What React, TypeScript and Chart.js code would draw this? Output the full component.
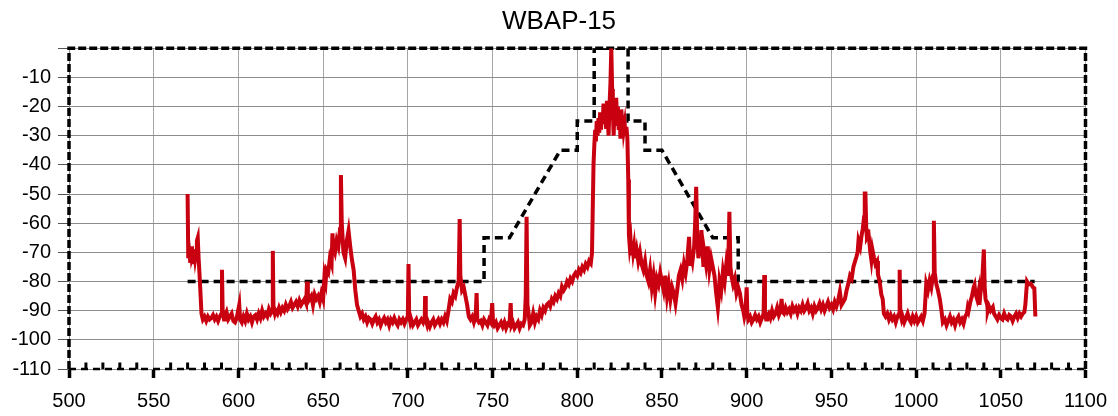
import React, { useEffect, useRef } from "react";
import { Chart, registerables } from "chart.js";

Chart.register(...registerables);

const chartTitle = "WBAP-15";
const xMin = 500;
const xMax = 1100;
const xStep = 50;
const yMin = -110;
const yMax = 0;
const yStep = 10;

// Measured spectrum: [frequency MHz, level dB]
const spectrumTrace: [number, number][] = [
  [570.0, -50], [570.4, -72], [571.0, -70], [571.5, -73], [572.0, -68], [572.5, -72], [573.0, -71], [573.5, -74], [574.0, -69], [574.5, -72],
  [575.0, -70], [575.5, -66], [576.0, -65], [576.5, -72], [577.0, -77], [577.6, -84], [578.2, -91], [579, -93], [580, -92], [581, -93.5],
  [582, -92], [583, -93], [584, -92.5], [585, -91.5], [586, -93], [587, -92], [588, -93.5], [589, -92], [590, -91], [590.3, -76],
  [590.7, -90], [591.5, -93], [592, -92], [593, -90.5], [594, -93], [595, -92], [596, -91], [597, -93.5], [598, -94], [599, -92.5],
  [600.5, -88], [601, -93], [602, -94], [603, -92], [604, -93.5], [605, -91], [606, -93], [607, -92], [608, -94], [609, -92],
  [610, -91.5], [611, -93], [612, -91], [613, -92.5], [614, -90], [615, -92], [616, -91], [617, -92], [618, -89.5], [619, -91],
  [620, -90], [620.3, -69.5], [620.7, -89], [621.5, -91], [622, -90], [623, -91], [624, -89], [625, -90.5], [626, -89], [627, -90],
  [628, -88], [629, -89.5], [630, -88.5], [631, -87], [632, -89], [633, -88], [634, -87], [635, -88.5], [636, -86.5], [637, -88],
  [638, -87], [639, -86], [640, -87.5], [640.5, -80], [641, -87], [642, -86], [643, -85], [644, -88], [645, -84.5], [646, -86],
  [647, -85], [648, -87], [649, -84], [650, -86], [650.8, -78], [651.5, -80], [652, -76], [653, -77], [654, -72], [655, -74],
  [655.5, -63.5], [656, -68], [657, -70], [658, -66], [659, -68], [660, -62], [660.5, -43.5], [661, -60], [662, -70], [663, -72],
  [664, -66], [665, -62.6], [666, -68], [667, -72.5], [668, -76], [669, -83], [670, -88], [671, -90], [672, -92], [673, -91],
  [674, -93], [675, -92], [676, -94], [677, -92.5], [678, -93], [679, -94.5], [680, -93], [681, -92], [682, -94], [683, -93],
  [684, -95], [685, -93.5], [686, -92.5], [687, -94], [688, -93], [689, -95], [690, -93], [691, -94], [692, -92.5], [693, -94],
  [694, -95], [695, -93], [696, -94], [697, -93], [698, -94.5], [699, -93], [700, -92], [700.4, -74], [700.8, -92], [701.5, -94],
  [702, -93], [703, -95], [704, -94], [705, -93], [706, -95], [707, -94], [708, -93], [709, -94], [710, -92], [710.2, -85],
  [710.6, -93], [711.5, -95], [712, -94], [713, -95.5], [714, -94], [715, -93], [716, -95], [717, -94], [718, -93], [719, -94.5],
  [720, -93], [721, -94], [722, -92], [723, -93.5], [724, -90], [725, -86], [726, -87], [727, -84], [728, -85], [729, -82],
  [730, -80], [730.6, -58.6], [731, -78], [732, -83], [733, -82], [734, -85], [735, -88], [736, -92], [737, -93], [738, -92],
  [739, -94], [740, -92], [740.6, -84], [741, -93], [742, -94], [743, -93.5], [744, -95], [745, -93], [746, -94], [747, -95],
  [748, -93], [749, -94], [749.8, -87.4], [750.3, -94], [751, -95], [752, -94], [753, -96], [754, -95], [755, -94], [756, -95.5],
  [757, -94], [758, -96], [759, -94.5], [760, -95], [760.7, -87.4], [761.2, -95], [762, -94], [763, -96], [764, -95], [765, -94],
  [766, -96], [767, -94.5], [768, -95], [769, -93], [769.6, -85], [770.1, -57.8], [770.6, -88], [771.5, -92], [772, -95], [773, -94],
  [774, -91], [775, -94], [776, -92], [777, -93], [778, -90], [779, -91.5], [780, -89], [781, -90], [782, -88], [783, -87.4],
  [784, -88.5], [785, -86], [786, -87], [787, -85], [788, -86], [789, -84], [790, -85], [791, -81.8], [792, -83], [793, -82],
  [794, -80], [795, -81], [796, -79], [797, -80], [798, -78], [799, -77.1], [800, -78], [801, -76], [802, -77], [803, -75],
  [804, -76], [805, -74], [806, -75], [807, -73], [808, -73.8], [808.7, -70.3], [809.6, -40], [810.1, -33], [810.6, -28], [811, -32],
  [811.5, -25], [812, -30], [812.5, -24], [813, -29], [813.5, -22], [814, -28], [814.5, -23], [815, -26], [815.5, -19], [816, -25],
  [816.5, -21], [817, -27], [817.5, -18], [818, -24], [818.5, -30], [819, -20], [819.6, -12], [820.1, 0], [820.6, -14], [821, -22],
  [821.5, -30], [822, -19], [822.5, -24], [823, -17], [823.5, -26], [824, -20], [824.5, -28], [825, -22], [825.5, -31], [826, -21],
  [826.5, -25], [827, -23], [827.5, -28], [828, -26], [828.5, -30], [829, -27], [829.6, -31], [830.1, -45], [830.5, -64], [831, -68],
  [831.5, -66], [832, -71], [832.5, -67], [833, -70], [833.5, -68], [834, -72], [835, -69], [836, -73], [837, -70], [838, -74],
  [839, -76], [840, -73], [841, -78], [842, -80], [843, -76], [844, -82], [845, -78], [846, -84], [847, -79], [848, -81],
  [849, -77], [850, -80], [851, -83], [852, -78], [853, -85], [854, -81], [855, -86], [856, -82], [857, -84], [858, -87.5],
  [859, -83], [860, -78], [861, -76], [862, -79], [863, -74], [864, -77], [865, -72.6], [866, -64.7], [866.6, -74], [867, -70],
  [868, -73], [869, -68], [869.6, -60], [870.2, -47.5], [870.8, -64], [871.5, -72], [872, -70], [873, -66], [873.3, -62.4], [873.8, -68],
  [874.5, -75], [875, -70], [876, -74], [877, -68], [878, -76], [879, -72], [880, -75], [881, -78], [882, -84], [883, -89],
  [883.6, -85], [884, -80], [885, -83], [886, -76.5], [887, -80], [888, -74], [889, -78], [889.8, -56.1], [890.4, -75], [891, -78],
  [892, -81], [893, -79], [894, -84], [895, -82], [896, -84], [897, -88], [898, -90], [898.6, -92], [899.3, -90], [900, -82],
  [900.4, -91], [901, -93], [902, -92], [903, -94], [904, -93], [905, -91.5], [906, -93], [907, -92], [908, -94], [909, -92.5],
  [910, -91], [910.4, -77.8], [910.8, -91], [911.5, -93], [912, -92], [913, -91], [914, -92.5], [915, -90], [916, -92], [917, -91],
  [918, -89], [919, -91.5], [920, -90], [920.6, -86], [921.2, -90.5], [922, -91], [923, -89], [924, -90.5], [925, -89.5], [926, -91],
  [927, -88.5], [928, -90], [929, -89], [930, -91], [931, -89], [932, -90], [933, -88], [934, -90], [935, -89], [936, -87.5],
  [937, -90], [938, -89], [939, -91], [940, -88.5], [941, -90], [942, -89], [943, -87.5], [944, -89.5], [945, -88], [946, -90],
  [947, -88.5], [948, -87], [949, -89], [950, -88], [951, -89.5], [952, -87], [953, -88.5], [954, -86.5], [955, -83.5], [956, -88],
  [957, -87], [958, -86], [959, -83], [960, -80.8], [961, -78], [962, -79], [963, -75], [964, -73], [964.8, -71.5], [965.5, -70],
  [966, -66], [967, -68], [967.7, -64.7], [968.5, -62], [969.3, -58], [969.7, -49.8], [970.1, -49.8], [970.6, -62], [971, -65], [972, -64],
  [973, -70], [973.6, -72.6], [974.2, -69], [975.2, -72], [976, -74], [977, -73], [977.5, -77.6], [978.5, -80], [979.5, -84.5], [980.3, -86],
  [981, -91], [982, -92], [983, -91], [984, -93], [985, -91.5], [986, -93], [987, -92], [988, -94], [989, -92], [990, -91],
  [990.3, -76], [990.7, -91], [991.5, -93], [992, -92], [993, -94], [994, -92.5], [995, -91], [996, -93], [997, -94], [998, -92],
  [999, -93.5], [1000, -92], [1001, -94], [1002, -93], [1003, -92], [1004, -93.5], [1005, -91], [1006, -80.8], [1007, -83], [1008, -79.7],
  [1009, -82], [1010, -78], [1010.5, -59.2], [1011, -77], [1012, -81], [1012.9, -83], [1014, -86], [1015, -90], [1015.8, -94], [1017, -93],
  [1018, -95], [1019, -93.5], [1020, -92], [1021, -94], [1022, -93], [1023, -95], [1024, -93], [1025, -92], [1026, -94], [1027, -93],
  [1028, -94.5], [1029, -92], [1030, -91], [1030.5, -89], [1031, -90], [1032, -87], [1033, -85], [1034, -82], [1034.5, -81.2], [1035, -84],
  [1036, -86], [1037, -83], [1037.4, -88], [1038, -84], [1039, -80], [1040, -69], [1040.5, -82], [1041, -86], [1042, -88], [1042.3, -90],
  [1043, -88.5], [1044, -90], [1045.3, -88.8], [1046, -91], [1047, -92], [1048, -93], [1049, -91.5], [1050, -92.5], [1051, -93], [1052, -91],
  [1053, -92.5], [1054, -93], [1055, -91.5], [1056, -92], [1057, -93.5], [1058, -92], [1059, -91], [1060, -92.5], [1061, -91], [1062, -92],
  [1063, -91], [1063.9, -90.5], [1064.5, -88], [1065.5, -80], [1066.5, -81], [1067.8, -80.8], [1069, -82], [1069.8, -82.3], [1070.4, -92],
];

// Upper emission mask
const maskFreq = [570, 745, 745, 760, 790, 800, 800, 810, 810, 830, 830, 840, 840, 850, 880, 895, 895, 1070];
const maskLevel = [-80, -80, -65, -65, -35, -35, -25, -25, 0, 0, -25, -25, -35, -35, -65, -65, -80, -80];

// Outer frame of the mask
const frameFreq = [500, 500, 1100, 1100];
const frameLevel = [-110, 0, 0, -110];

// Lower limit line and its small step marks
const floorFreq = [500, 1100];
const floorLevel = [-110, -110];
const floorStepFreq = [510, 520, 530, 540, 560, 570, 580, 590, 610, 620, 630, 640, 660, 670, 680, 690, 710, 720, 730, 740,
  760, 770, 780, 790, 810, 820, 830, 840, 860, 870, 880, 890, 910, 920, 930, 940, 960, 970, 980, 990,
  1010, 1020, 1030, 1040, 1060, 1070, 1080, 1090];
const floorStepTop = -107.8;

const FONT = "'Liberation Sans', Arial, sans-serif";

export default function App() {
  const ref = useRef<HTMLCanvasElement | null>(null);

  useEffect(() => {
    if (!ref.current) return;
    const traceData = spectrumTrace.map(([x, y]) => ({ x, y }));
    const maskData = maskFreq.map((x, i) => ({ x, y: maskLevel[i] }));
    const frameData = frameFreq.map((x, i) => ({ x, y: frameLevel[i] }));
    const floorData = floorFreq.map((x, i) => ({ x, y: floorLevel[i] }));
    const stepData: { x: number; y: number | null }[] = [];
    floorStepFreq.forEach((f) => {
      stepData.push({ x: f, y: yMin });
      stepData.push({ x: f, y: floorStepTop });
      stepData.push({ x: f, y: null });
    });

    const chart = new Chart(ref.current, {
      type: "line",
      data: {
        datasets: [
          {
            label: "Spectrum",
            data: traceData,
            borderColor: "#c8000f",
            borderWidth: 4,
            pointRadius: 0,
            tension: 0,
            order: 0,
          },
          {
            label: "Mask",
            data: maskData,
            borderColor: "#000",
            borderWidth: 3.5,
            borderDash: [8, 5],
            pointRadius: 0,
            order: 2,
          },
          {
            label: "Frame",
            data: frameData,
            borderColor: "#000",
            borderWidth: 3.5,
            borderDash: [8, 3],
            pointRadius: 0,
            order: 3,
            clip: 4,
          },
          {
            label: "Floor",
            data: floorData,
            borderColor: "#000",
            borderWidth: 2.5,
            borderDash: [7, 5],
            pointRadius: 0,
            order: 4,
            clip: 4,
          },
          {
            label: "Floor steps",
            data: stepData,
            borderColor: "#000",
            borderWidth: 3,
            pointRadius: 0,
            spanGaps: false,
            order: 5,
          },
        ],
      },
      options: {
        responsive: false,
        animation: false,
        layout: { padding: 0 },
        plugins: {
          legend: { display: false },
          tooltip: { enabled: false },
          title: {
            display: true,
            text: chartTitle,
            color: "#000",
            font: { family: FONT, size: 26, weight: "normal" },
            padding: { top: 6, bottom: 11 },
          },
        },
        scales: {
          x: {
            type: "linear",
            min: xMin,
            max: xMax,
            ticks: {
              stepSize: xStep,
              autoSkip: false,
              maxRotation: 0,
              color: "#000",
              padding: 11,
              font: { family: FONT, size: 20 },
              callback: (v: any) => String(v),
            },
            grid: {
              color: "#a6a6a6",
              lineWidth: 1,
              tickColor: "#000",
              tickWidth: 3.5,
              tickLength: 9,
            },
            border: { display: true, color: "#888" },
            afterFit: (s: any) => {
              s.height = 47;
            },
          },
          y: {
            type: "linear",
            min: yMin,
            max: yMax,
            ticks: {
              stepSize: yStep,
              color: "#000",
              padding: 7,
              font: { family: FONT, size: 20 },
              callback: (v: any) => (Number(v) === 0 ? "" : String(v)),
            },
            grid: {
              color: "#8c8c8c",
              lineWidth: 1,
              tickColor: "#555",
              tickLength: 11,
            },
            border: { display: true, color: "#888" },
            afterFit: (s: any) => {
              s.width = 69;
            },
          },
          yRight: {
            type: "linear",
            position: "right",
            min: yMin,
            max: yMax,
            ticks: { display: false },
            grid: { display: false },
            border: { display: false },
            afterFit: (s: any) => {
              s.width = 30;
            },
          },
        },
      },
    });
    return () => chart.destroy();
  }, []);

  return (
    <div style={{ position: "fixed", left: 0, top: 0, width: 1118, height: 416, background: "#fff" }}>
      <canvas ref={ref} width={1118} height={416} style={{ display: "block" }} />
    </div>
  );
}
